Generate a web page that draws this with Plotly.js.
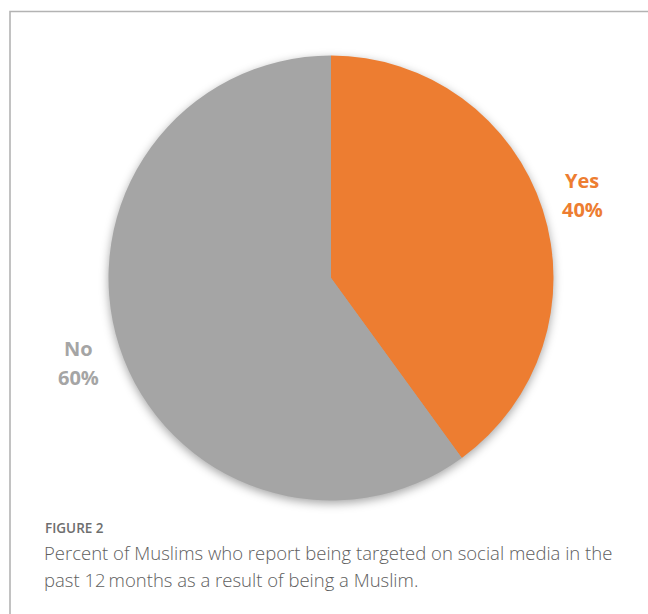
<!DOCTYPE html>
<html>
<head>
<meta charset="utf-8">
<script src="https://cdn.plot.ly/plotly-3.0.1.min.js"></script>
<style>
  html, body { margin: 0; padding: 0; background: #ffffff; }
  #chart { width: 648px; height: 614px; }
</style>
</head>
<body>
<div id="chart"></div>
<script>
// ---- data ----
const categories = ['Yes', 'No'];
const percentValues = [40, 60];
const figureLabel = 'FIGURE 2';
const captionLines = [
  'Percent of Muslims who report being targeted on social media in the',
  'past 12\u2009months as a result of being a Muslim.'
];

// ---- styles ----
const sliceColors = ['#ED7D31', '#A5A5A5'];
const W = 648, H = 614;
const px = v => v / W;
const py = v => 1 - v / H;

const trace = {
  type: 'pie',
  labels: categories,
  values: percentValues,
  sort: false,
  direction: 'clockwise',
  rotation: 0,
  marker: { colors: sliceColors, line: { width: 0 } },
  textinfo: 'none',
  hoverinfo: 'label+percent',
  showlegend: false,
  domain: { x: [px(108.5), px(553.5)], y: [py(501), py(55)] }
};

const labelPos = [
  { x: 582, y1: 180, y2: 210 },
  { x: 78, y1: 348, y2: 377 }
];

const annotations = [];
categories.forEach((c, i) => {
  const base = {
    x: px(labelPos[i].x), xref: 'paper', yref: 'paper',
    xanchor: 'center', yanchor: 'middle', showarrow: false,
    font: { family: '"Open Sans", sans-serif', size: 20, weight: 700, color: sliceColors[i] }
  };
  annotations.push(Object.assign({}, base, { text: c, y: py(labelPos[i].y1) }));
  annotations.push(Object.assign({}, base, { text: percentValues[i] + '%', y: py(labelPos[i].y2) }));
});

annotations.push({
  text: figureLabel,
  x: px(43), y: py(528),
  xref: 'paper', yref: 'paper', xanchor: 'left', yanchor: 'middle',
  showarrow: false,
  font: { family: '"Open Sans", sans-serif', size: 13.5, weight: 600, color: '#6e6e6e' }
});
captionLines.forEach((line, i) => {
  annotations.push({
    text: line,
    x: px(42), y: py(552 + i * 27),
    xref: 'paper', yref: 'paper', xanchor: 'left', yanchor: 'middle',
    showarrow: false,
    font: { family: '"Open Sans", sans-serif', size: 18.5, weight: 300, color: '#5e5e5e' }
  });
});

const layout = {
  width: W, height: H,
  margin: { l: 0, r: 0, t: 0, b: 0 },
  paper_bgcolor: '#ffffff',
  annotations: annotations,
  shapes: [{
    type: 'path', xref: 'paper', yref: 'paper',
    path: 'M ' + px(10) + ' 0 L ' + px(10) + ' ' + py(11.5) + ' L 1.01 ' + py(11.5),
    line: { color: '#b3b3b3', width: 1.6 }
  }]
};

Plotly.newPlot('chart', [trace], layout, { displayModeBar: false, staticPlot: true }).then(() => {
  document.querySelectorAll('.pielayer').forEach(el => {
    el.style.filter = 'drop-shadow(0px 3px 5px rgba(0,0,0,0.35))';
  });
});
</script>
</body>
</html>
